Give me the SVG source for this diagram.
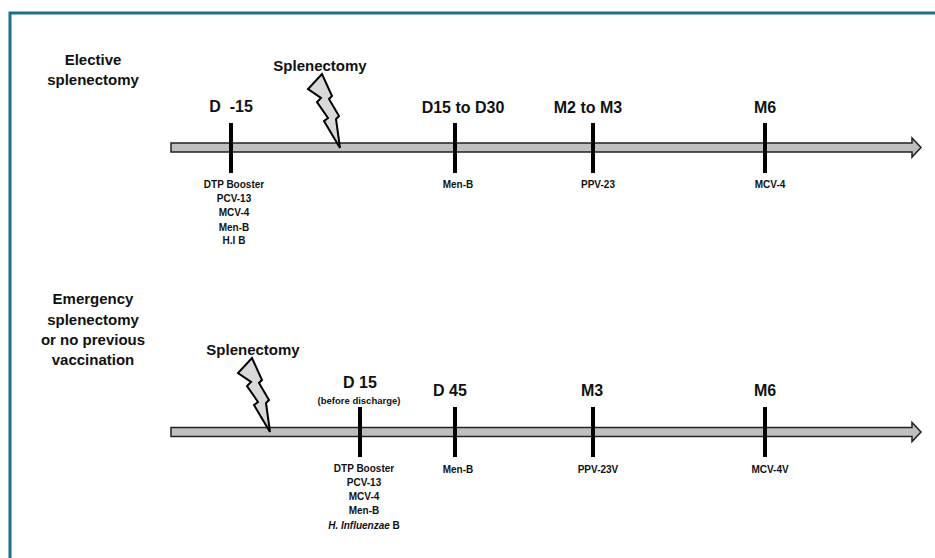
<svg xmlns="http://www.w3.org/2000/svg" width="935" height="558" viewBox="0 0 935 558">
<style>
text{font-family:"Liberation Sans",Arial,sans-serif;font-weight:bold;fill:#111;text-anchor:middle}
.big{font-size:16px}
.lab{font-size:15px}
.sm{font-size:10px}
.xs{font-size:9.5px}
.tick{stroke:#000;stroke-width:4}
.bar{fill:#BFBFBF;stroke:#222;stroke-width:1.5;stroke-linejoin:miter}
.bolt{fill:#D9D9D9;stroke:#000;stroke-width:2;stroke-linejoin:miter}
</style>
<defs>
<path id="arrow" d="M171,0 H912 V-5 L921,4.5 L912,14 V9 H171 Z"/>
<path id="boltshape" d="M0,0 L-14,15 L-1,24 L-5,28 L6,44 L2,47 L18,74 L14,45 L17,42 L7,25 L10,22 Z"/>
</defs>
<rect width="935" height="558" fill="#fff"/>
<path d="M10,558 V13 H935" fill="none" stroke="#1B6F8F" stroke-width="3"/>

<g id="connectors">
<use href="#arrow" class="bar" transform="translate(0,143)"/>
<use href="#arrow" class="bar" transform="translate(0,427.5)"/>
</g>

<g id="elective-label">
<text class="lab" x="93" y="65">Elective</text>
<text class="lab" x="93" y="85">splenectomy</text>
</g>

<g id="elective-splenectomy">
<text class="lab" x="320" y="71">Splenectomy</text>
<use href="#boltshape" class="bolt" transform="translate(322,74)"/>
</g>

<g id="e-d-15">
<line class="tick" x1="231" y1="123" x2="231" y2="173"/>
<text class="big" x="231" y="112" xml:space="preserve">D  -15</text>
<text class="sm" x="234" y="188">DTP Booster</text>
<text class="sm" x="234" y="202">PCV-13</text>
<text class="sm" x="234" y="216">MCV-4</text>
<text class="sm" x="234" y="230.5">Men-B</text>
<text class="sm" x="234" y="244">H.I B</text>
</g>

<g id="e-d15-d30">
<line class="tick" x1="455" y1="123" x2="455" y2="173"/>
<text class="big" x="463" y="112.5">D15 to D30</text>
<text class="sm" x="458" y="188">Men-B</text>
</g>

<g id="e-m2-m3">
<line class="tick" x1="593" y1="123" x2="593" y2="173"/>
<text class="big" x="588" y="112.5">M2 to M3</text>
<text class="sm" x="598" y="188">PPV-23</text>
</g>

<g id="e-m6">
<line class="tick" x1="765" y1="123" x2="765" y2="173"/>
<text class="big" x="765" y="113">M6</text>
<text class="sm" x="770" y="188">MCV-4</text>
</g>

<g id="emergency-label">
<text class="lab" x="93" y="304">Emergency</text>
<text class="lab" x="93" y="324.5">splenectomy</text>
<text class="lab" x="93" y="345">or no previous</text>
<text class="lab" x="93" y="365">vaccination</text>
</g>

<g id="emergency-splenectomy">
<text class="lab" x="253" y="355">Splenectomy</text>
<use href="#boltshape" class="bolt" transform="translate(252,358)"/>
</g>

<g id="m-d15">
<line class="tick" x1="360" y1="407" x2="360" y2="457"/>
<text class="big" x="360" y="388">D 15</text>
<text class="xs" x="359" y="404">(before discharge)</text>
<text class="sm" x="364" y="472">DTP Booster</text>
<text class="sm" x="364" y="486">PCV-13</text>
<text class="sm" x="364" y="500">MCV-4</text>
<text class="sm" x="364" y="514">Men-B</text>
<text class="sm" x="364" y="528.5"><tspan font-style="italic">H. Influenzae</tspan> B</text>
</g>

<g id="m-d45">
<line class="tick" x1="455" y1="407" x2="455" y2="457"/>
<text class="big" x="450" y="396">D 45</text>
<text class="sm" x="458" y="473">Men-B</text>
</g>

<g id="m-m3">
<line class="tick" x1="593" y1="407" x2="593" y2="457"/>
<text class="big" x="592" y="396">M3</text>
<text class="sm" x="598" y="473">PPV-23V</text>
</g>

<g id="m-m6">
<line class="tick" x1="765" y1="407" x2="765" y2="457"/>
<text class="big" x="765" y="396">M6</text>
<text class="sm" x="770" y="473">MCV-4V</text>
</g>
</svg>
